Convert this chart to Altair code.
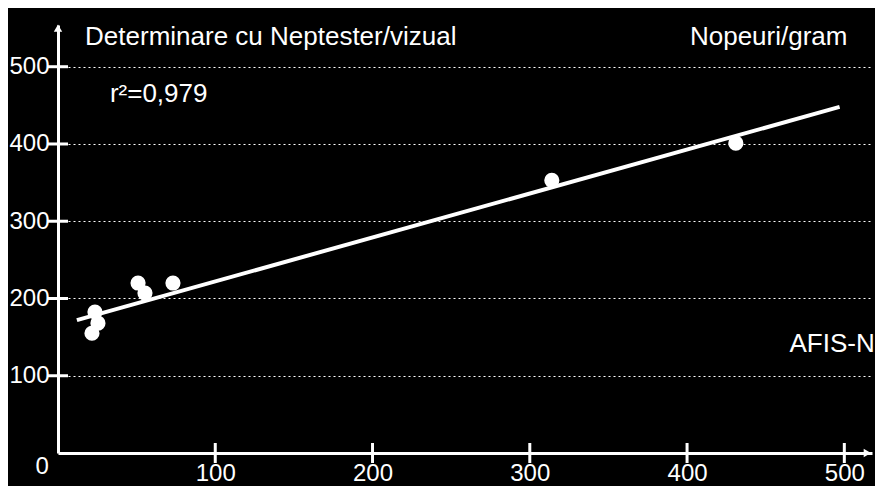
import altair as alt
import pandas as pd

# data
pts_x = [21.6, 23.5, 25.4, 50.9, 55.3, 73.1, 314, 431]
pts_y = [155, 182.5, 168, 220, 207, 220, 353, 401]
fit_x = [12, 497]
fit_y = [172, 448]
tick_vals = [100, 200, 300, 400, 500]

title_left = "Determinare cu Neptester/vizual"
title_right = "Nopeuri/gram"
r2_text = "r\u00b2=0,979"
x_name = "AFIS-N"
origin_label = "0"

X_MAX = 517.6
Y_MAX = 554
FONT = "Liberation Sans"
FS = 24
TS = 26

xs = alt.Scale(domain=[0, X_MAX], nice=False, zero=False)
ys = alt.Scale(domain=[0, Y_MAX], nice=False, zero=False)

one = pd.DataFrame({"a": [0]})

points = alt.Chart(pd.DataFrame({"x": pts_x, "y": pts_y})).mark_circle(
    size=230, color="white", opacity=1
).encode(
    x=alt.X("x:Q", scale=xs, axis=alt.Axis(
        values=tick_vals, title=None, grid=False, ticks=False,
        domainColor="white", domainWidth=3, labelColor="white",
        labelFont=FONT, labelFontSize=FS, labelPadding=8, labelFlush=False)),
    y=alt.Y("y:Q", scale=ys, axis=alt.Axis(
        values=tick_vals, title=None, grid=True, gridColor="white",
        gridDash=[2, 3], gridWidth=1, gridOpacity=1, ticks=False,
        domainColor="white", domainWidth=3, labelColor="white",
        labelFont=FONT, labelFontSize=FS, labelPadding=9, labelFlush=False)),
)

fit = alt.Chart(pd.DataFrame({"x": fit_x, "y": fit_y})).mark_line(
    color="white", strokeWidth=4
).encode(x=alt.X("x:Q", scale=xs), y=alt.Y("y:Q", scale=ys))

xticks = alt.Chart(pd.DataFrame({"v": tick_vals})).mark_tick(
    orient="vertical", color="white", thickness=3, size=20, opacity=1
).encode(x=alt.X("v:Q", scale=xs), y=alt.datum(0))

yticks = alt.Chart(pd.DataFrame({"v": tick_vals})).mark_tick(
    orient="horizontal", color="white", thickness=3, size=20, opacity=1
).encode(y=alt.Y("v:Q", scale=ys), x=alt.datum(0))

arrow_up = alt.Chart(one).mark_point(
    shape="triangle-up", filled=True, color="white", size=70, opacity=1
).encode(x=alt.datum(0), y=alt.datum(Y_MAX - 4))

arrow_right = alt.Chart(one).mark_point(
    shape="triangle-right", filled=True, color="white", size=70, opacity=1
).encode(x=alt.datum(X_MAX - 3), y=alt.datum(0))


def label(txt, x, y, align, size=TS):
    return alt.Chart(one).mark_text(
        text=txt, align=align, baseline="alphabetic", color="white",
        font=FONT, fontSize=size
    ).encode(x=alt.datum(x), y=alt.datum(y))


t1 = label(title_left, 17.2, 528, "left")
t2 = label(title_right, 502, 528, "right")
t3 = label(r2_text, 33, 454, "left")
t4 = label(x_name, 519.3, 131, "right")
t5 = label(origin_label, -10, -27, "center", FS)

chart = alt.layer(
    fit, points, xticks, yticks, arrow_up, arrow_right, t1, t2, t3, t4, t5
).properties(
    width=814, height=428,
    autosize=alt.AutoSizeParams(type="none"),
    padding={"left": 50, "top": 17, "right": 3, "bottom": 33},
    background="black",
).configure_view(stroke=None)

chart.save("out.html", embed_options={"renderer": "svg", "actions": False})
